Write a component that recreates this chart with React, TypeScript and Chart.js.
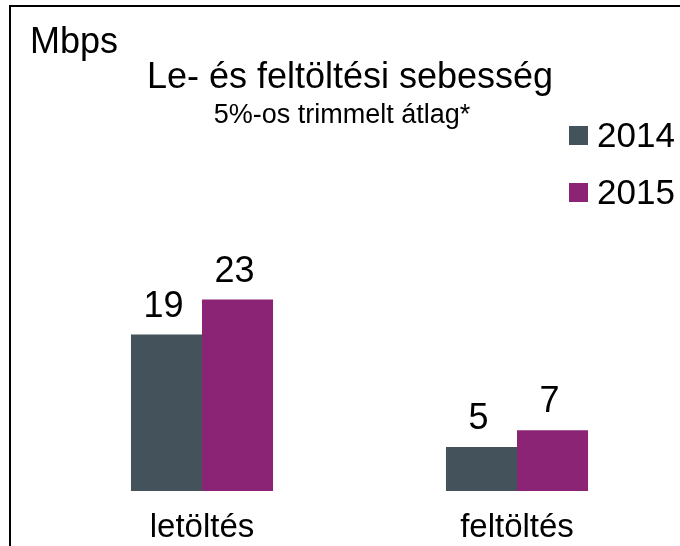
import React, { useEffect, useRef } from "react";
import { Chart, registerables } from "chart.js";

Chart.register(...registerables);

const categories = ["letöltés", "feltöltés"];
const seriesLabels = ["2014", "2015"];
const values2014 = [18.8, 5.3];
const values2015 = [23.0, 7.3];
const colors = ["#44525b", "#8c2475"];
const unitLabel = "Mbps";
const titleText = "Le- és feltöltési sebesség";
const subtitleText = "5%-os trimmelt átlag*";

const FONT = "'Liberation Sans', Arial, sans-serif";

const decorPlugin = {
  id: "decor",
  afterDraw(chart: any) {
    const ctx = chart.ctx as CanvasRenderingContext2D;
    ctx.save();
    // frame
    ctx.fillStyle = "#000";
    ctx.fillRect(9, 5, 2, 546);
    ctx.fillRect(9, 5, 680, 2);
    // unit label
    ctx.textBaseline = "alphabetic";
    ctx.textAlign = "left";
    ctx.font = `36px ${FONT}`;
    ctx.fillText(unitLabel, 30, 53);
    // title
    ctx.textAlign = "center";
    ctx.font = `36px ${FONT}`;
    ctx.fillText(titleText, 350, 88);
    ctx.font = `27px ${FONT}`;
    ctx.fillText(subtitleText, 342, 123);
    // legend
    ctx.textAlign = "left";
    ctx.font = `35px ${FONT}`;
    chart.data.datasets.forEach((ds: any, i: number) => {
      const y = 126 + i * 57;
      ctx.fillStyle = ds.backgroundColor;
      ctx.fillRect(569, y, 19, 19);
      ctx.fillStyle = "#000";
      ctx.fillText(ds.label, 597, y + 21);
    });
    // data labels
    ctx.textAlign = "center";
    ctx.font = `36px ${FONT}`;
    chart.data.datasets.forEach((ds: any, i: number) => {
      const meta = chart.getDatasetMeta(i);
      meta.data.forEach((el: any, j: number) => {
        ctx.fillText(String(Math.round(ds.data[j])), el.x - 3, el.y - 18);
      });
    });
    ctx.restore();
  },
};

export default function App() {
  const ref = useRef<HTMLCanvasElement>(null);
  useEffect(() => {
    document.body.style.margin = "0";
    const chart = new Chart(ref.current!, {
      type: "bar",
      data: {
        labels: categories,
        datasets: [
          { label: seriesLabels[0], data: values2014, backgroundColor: colors[0] },
          { label: seriesLabels[1], data: values2015, backgroundColor: colors[1] },
        ],
      },
      options: {
        responsive: false,
        animation: false,
        layout: { padding: { left: 44.5, right: 5.5, top: 0, bottom: 0 } },
        plugins: { legend: { display: false }, tooltip: { enabled: false }, title: { display: false } },
        datasets: { bar: { categoryPercentage: 0.451, barPercentage: 1 } },
        scales: {
          x: {
            grid: { display: false, drawTicks: false },
            border: { display: false },
            ticks: { color: "#000", font: { size: 33, family: FONT }, padding: 17 },
            afterFit: (s: any) => { s.height = 55; },
          },
          y: { display: false, min: 0, max: 59 },
        },
      },
      plugins: [decorPlugin],
    });
    return () => chart.destroy();
  }, []);
  return <canvas ref={ref} width={680} height={546} style={{ display: "block" }} />;
}
